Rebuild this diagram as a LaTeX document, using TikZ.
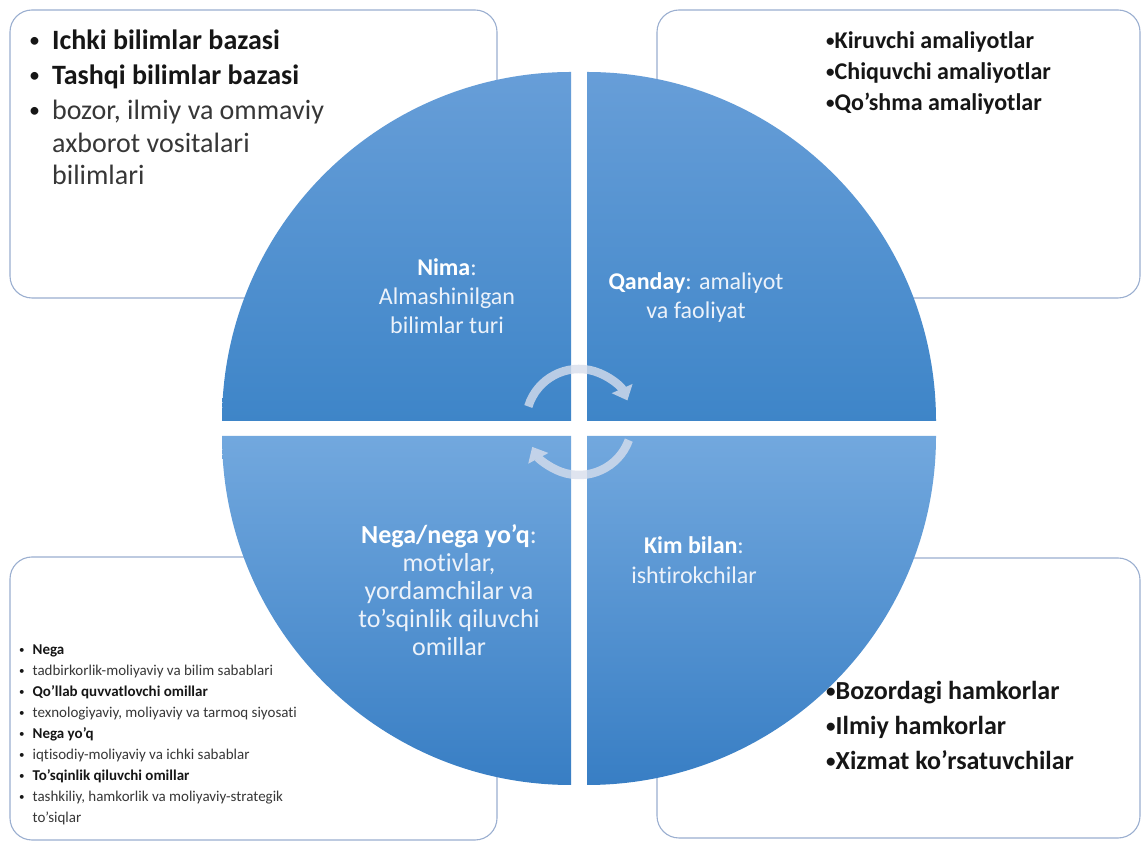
\documentclass[tikz,border=0pt]{standalone}
\usepackage{fontspec}
\setmainfont{Carlito}[Ligatures={NoCommon}]
\usetikzlibrary{arrows.meta}
\definecolor{boxline}{RGB}{155,175,208}
\definecolor{qtopA}{RGB}{103,158,216}
\definecolor{qbotA}{RGB}{62,133,200}
\definecolor{qtopB}{RGB}{114,168,222}
\definecolor{qbotB}{RGB}{56,126,196}
\definecolor{cyc}{RGB}{215,222,236}
\definecolor{qtext}{RGB}{236,242,250}
\definecolor{btext}{RGB}{22,22,22}
\definecolor{rtext}{RGB}{55,55,55}
\newcommand{\bul}[2]{\raisebox{#2}{\fontsize{#1}{#1}\selectfont\textbullet}}
\tikzset{
  infobox/.style={draw=boxline, line width=1.1pt, fill=white, rounded corners=22pt},
  quadA/.style={top color=qtopA, bottom color=qbotA},
  quadB/.style={top color=qtopB, bottom color=qbotB},
  qlabel/.style={anchor=north, inner sep=0pt, text=qtext, font=\fontsize{24}{29}\selectfont},
  blist/.style={anchor=north west, inner sep=0pt, text=btext},
  cycarrow/.style={line width=8.5pt, draw=cyc, -{Triangle[length=13pt,width=22pt]}}
}
\begin{document}
\begin{tikzpicture}[x=1pt,y=1pt]
\useasboundingbox (0,0) rectangle (1145,845);
\fill[white] (0,0) rectangle (1145,845);
% corner boxes
\draw[infobox] (10,547) rectangle (497,835);
\draw[infobox] (657,547) rectangle (1140,835);
\draw[infobox] (10,5) rectangle (497,288);
\draw[infobox] (657,7) rectangle (1140,287);
% quadrants
\coordinate (cUL) at (571,424);
\coordinate (cUR) at (587,424);
\coordinate (cLL) at (571,409);
\coordinate (cLR) at (587,409);
\shade[quadA] (cUL) -- ++(0,349) arc[start angle=90,end angle=180,radius=349] -- cycle;
\shade[quadA] (cUR) -- ++(349,0) arc[start angle=0,end angle=90,radius=349] -- cycle;
\shade[quadB] (cLL) -- ++(-349,0) arc[start angle=180,end angle=270,radius=349] -- cycle;
\shade[quadB] (cLR) -- ++(0,-349) arc[start angle=270,end angle=360,radius=349] -- cycle;
% cycle arrows
\coordinate (cyc) at (579,423);
\begin{scope}[transparency group, opacity=0.8, shift={(cyc)}]
  \draw[cycarrow] (163:53) arc[start angle=163,end angle=24,radius=53];
  \draw[cycarrow] (-20:53) arc[start angle=-20,end angle=-152,radius=53];
\end{scope}
% quadrant labels
\node[qlabel] (nima) at (447,590) {\begin{tabular}{@{}c@{}}\textcolor{white}{\textbf{Nima}}:\\Almashinilgan\\bilimlar turi\end{tabular}};
\node[qlabel] (qanday) at (696,576) {\begin{tabular}{@{}c@{}}\textcolor{white}{\textbf{Qanday}}: amaliyot\\va faoliyat\end{tabular}};
\node[qlabel, font=\fontsize{26}{28}\selectfont] (nega) at (449,321) {\begin{tabular}{@{}c@{}}\textcolor{white}{\textbf{Nega/nega yo'q}}:\\motivlar,\\yordamchilar va\\to'sqinlik qiluvchi\\omillar\end{tabular}};
\node[qlabel, font=\fontsize{24}{30}\selectfont] (kim) at (694,313) {\begin{tabular}{@{}c@{}}\textcolor{white}{\textbf{Kim bilan}}:\\ishtirokchilar\end{tabular}};
% box texts
\node[blist, font=\fontsize{28}{35}\selectfont] (tltext) at (29,820) {\begin{tabular}{@{}l@{\hskip 12pt}l@{}}
\bul{22}{2pt} & \textbf{Ichki bilimlar bazasi}\\
\bul{22}{2pt} & \textbf{Tashqi bilimlar bazasi}\\
\bul{22}{2pt} & \textcolor{rtext}{bozor, ilmiy va ommaviy}\\[-2pt]
 & \textcolor{rtext}{axborot vositalari}\\[-3pt]
 & \textcolor{rtext}{bilimlari}
\end{tabular}};
\node[blist, font=\fontsize{24}{31}\bfseries\selectfont] (trtext) at (826,818) {\begin{tabular}{@{}l@{}}
\bul{17}{2pt}Kiruvchi amaliyotlar\\
\bul{17}{2pt}Chiquvchi amaliyotlar\\
\bul{17}{2pt}Qo'shma amaliyotlar
\end{tabular}};
\node[blist, font=\fontsize{26}{35}\bfseries\selectfont] (brtext) at (826,170) {\begin{tabular}{@{}l@{}}
\bul{19}{2.3pt}Bozordagi hamkorlar\\
\bul{19}{2.3pt}Ilmiy hamkorlar\\
\bul{19}{2.3pt}Xizmat ko'rsatuvchilar
\end{tabular}};
\node[blist, font=\fontsize{15}{21}\selectfont] (bltext) at (19,205) {\begin{tabular}{@{}l@{\hskip 8pt}l@{}}
\bul{11}{1.3pt} & \textbf{Nega}\\
\bul{11}{1.3pt} & \textcolor{rtext}{tadbirkorlik-moliyaviy va bilim sabablari}\\
\bul{11}{1.3pt} & \textbf{Qo'llab quvvatlovchi omillar}\\
\bul{11}{1.3pt} & \textcolor{rtext}{texnologiyaviy, moliyaviy va tarmoq siyosati}\\
\bul{11}{1.3pt} & \textbf{Nega yo'q}\\
\bul{11}{1.3pt} & \textcolor{rtext}{iqtisodiy-moliyaviy va ichki sabablar}\\
\bul{11}{1.3pt} & \textbf{To'sqinlik qiluvchi omillar}\\
\bul{11}{1.3pt} & \textcolor{rtext}{tashkiliy, hamkorlik va moliyaviy-strategik}\\
 & \textcolor{rtext}{to'siqlar}
\end{tabular}};
\end{tikzpicture}
\end{document}
